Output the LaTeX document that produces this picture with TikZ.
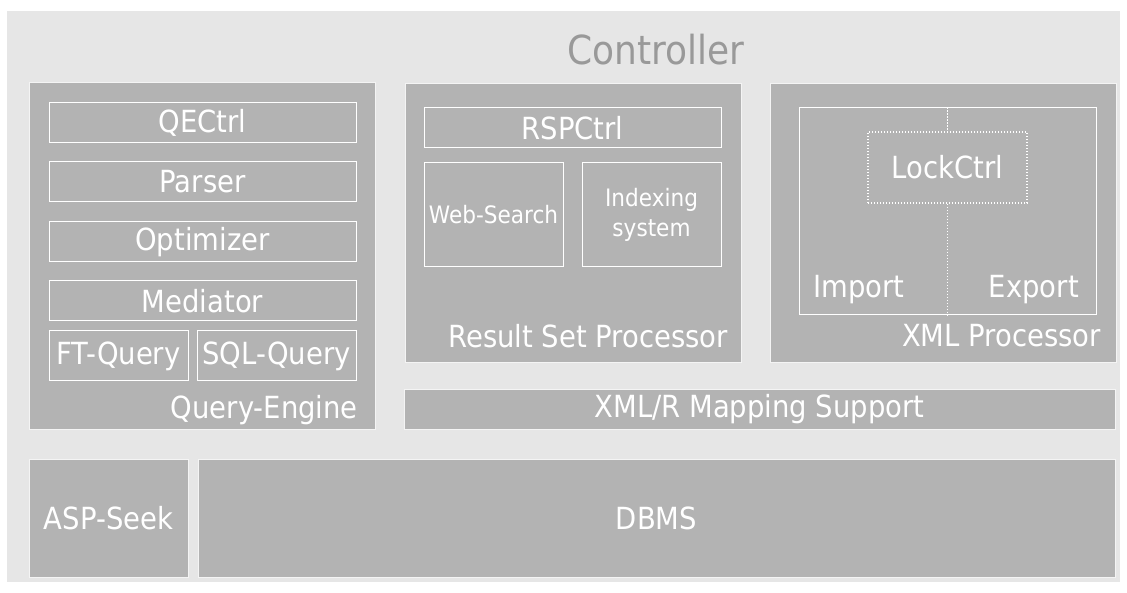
\documentclass[tikz,border=0pt]{standalone}
\usepackage{fontspec}
\setmainfont{DejaVu Sans}[FakeStretch=0.9]
\definecolor{bgc}{HTML}{E6E6E6}
\definecolor{boxc}{HTML}{B3B3B3}
\definecolor{edgec}{HTML}{F4F4F4}
\definecolor{titlec}{HTML}{999999}
\begin{document}
\begin{tikzpicture}[x=1pt,y=-1pt,
  container/.style={draw=edgec, line width=1pt, fill=boxc, inner sep=0pt},
  sub/.style={draw=white, line width=1pt, fill=boxc, inner sep=0pt, text=white, font=\fontsize{30.5}{36}\selectfont},
  small/.style={sub, font=\fontsize{24}{30}\selectfont, align=center},
  lbl/.style={text=white, inner sep=0pt, font=\fontsize{30.5}{36}\selectfont},
  dotline/.style={draw=white, line width=1.2pt, dash pattern=on 1.2pt off 1.8pt}
]
\useasboundingbox (0,0) rectangle (1127,593);
\node[fill=bgc, inner sep=0pt, minimum width=1113pt, minimum height=571pt] (bg) at (563.5,296.5) {};
\node[anchor=base, text=titlec, inner sep=0pt, font=\fontsize{40}{48}\selectfont] (title) at (656,65) {Controller};

% Query-Engine
\node[container, minimum width=346pt, minimum height=346pt] (qe) at (202,256) {};
\node[sub, minimum width=307pt, minimum height=40pt] (qectrl) at (202.5,123) {QECtrl};
\node[sub, minimum width=307pt, minimum height=40pt] (parser) at (202.5,182) {Parser};
\node[sub, minimum width=307pt, minimum height=40pt] (optimizer) at (202.5,242) {Optimizer};
\node[sub, minimum width=307pt, minimum height=40pt] (mediator) at (202.5,301) {Mediator};
\node[sub, minimum width=139pt, minimum height=50pt] (ftq) at (118.5,356) {FT-Query};
\node[sub, minimum width=159pt, minimum height=50pt] (sqlq) at (276.5,356) {SQL-Query};
\node[lbl, anchor=base east] (qelbl) at (358,418) {Query-Engine};

% Result Set Processor
\node[container, minimum width=336pt, minimum height=279pt] (rsp) at (573,223.5) {};
\node[sub, minimum width=297pt, minimum height=40pt] (rspctrl) at (572.5,128) {RSPCtrl};
\node[small, minimum width=139pt, minimum height=104pt] (web) at (493.5,215) {Web-Search};
\node[small, minimum width=139pt, minimum height=104pt] (idx) at (651.5,215) {Indexing\\system};
\node[lbl, anchor=base east] (rsplbl) at (728,348) {Result Set Processor};

% XML Processor
\node[container, minimum width=346pt, minimum height=279pt] (xml) at (943,223.5) {};
\node[draw=white, line width=1pt, inner sep=0pt, minimum width=297pt, minimum height=207pt] (xmlin) at (947.5,211.5) {};
\node[lbl, dotline, minimum width=159pt, minimum height=71pt] (lock) at (947.5,167.5) {LockCtrl};
\draw[dotline] (xmlin.north) -- (lock.north);
\draw[dotline] (lock.south) -- (xmlin.south);
\node[lbl, anchor=base west] (import) at (813,298) {Import};
\node[lbl, anchor=base east] (export) at (1079,298) {Export};
\node[lbl, anchor=base east] (xmllbl) at (1101,347) {XML Processor};

% Bottom layers
\node[sub, draw=edgec, minimum width=711pt, minimum height=39pt] (map) at (759.5,409.5) {XML/R Mapping Support};
\node[sub, draw=edgec, minimum width=159pt, minimum height=118pt] (asp) at (108.5,518) {ASP-Seek};
\node[sub, draw=edgec, minimum width=917pt, minimum height=118pt] (dbms) at (656.5,518) {DBMS};
\end{tikzpicture}
\end{document}
